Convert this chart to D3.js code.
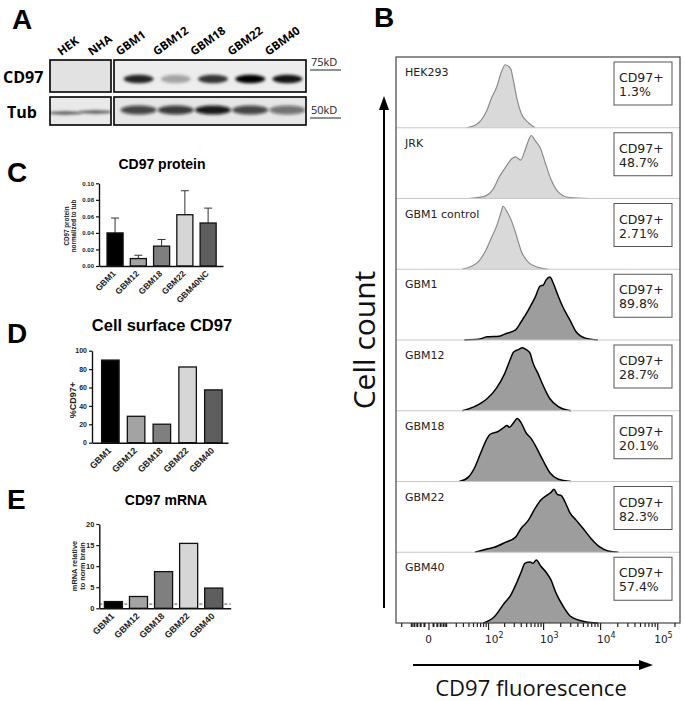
<!DOCTYPE html>
<html>
<head>
<meta charset="utf-8">
<script src="https://cdn.jsdelivr.net/npm/d3@7"></script>
<style>
body { margin: 0; background: #fff; }
svg { display: block; }
</style>
</head>
<body>
<div id="fig"></div>
<script>
// ---------- data ----------
// A: western blot lanes and band strengths (0..1)
var blotLeft = ["HEK", "NHA"];
var blotRight = ["GBM1", "GBM12", "GBM18", "GBM22", "GBM40"];
var cd97Band = [0, 0, 0.85, 0.3, 0.78, 1.0, 0.92];
var tubBand = [0.85, 0.85, 0.75, 0.8, 0.95, 0.75, 0.55];

// C: CD97 protein normalized to tub (mean, upper error)
var proteinLines = ["GBM1", "GBM12", "GBM18", "GBM22", "GBM40NC"];
var proteinMean = [0.040, 0.009, 0.024, 0.062, 0.052];
var proteinErr = [0.018, 0.004, 0.008, 0.029, 0.018];
var proteinTicks = [0, 0.02, 0.04, 0.06, 0.08, 0.10];

// D: cell surface CD97 (%CD97+)
var cellLines = ["GBM1", "GBM12", "GBM18", "GBM22", "GBM40"];
var surfacePct = [89.8, 28.7, 20.1, 82.3, 57.4];
var surfaceTicks = [0, 20, 40, 60, 80, 100];

// E: CD97 mRNA relative to normal brain
var mrnaRel = [1.6, 2.8, 8.7, 15.4, 4.8];
var mrnaTicks = [0, 5, 10, 15, 20];
var normBrain = 1;

var barFills = ["#000000", "#a3a3a3", "#7f7f7f", "#d6d6d6", "#5e5e5e"];

// B: flow histograms (log10 fluorescence, % of mode)
var flowSamples = ["HEK293", "JRK", "GBM1 control", "GBM1", "GBM12", "GBM18", "GBM22", "GBM40"];
var flowPositive = ["1.3%", "48.7%", "2.71%", "89.8%", "28.7%", "20.1%", "82.3%", "57.4%"];
var flowControl = [true, true, true, false, false, false, false, false];
var histLog = [
  [1.56, 1.77, 1.98, 2.07, 2.16, 2.25, 2.32, 2.42, 2.47, 2.54, 2.61, 2.74, 2.86],
  [1.60, 1.91, 2.09, 2.21, 2.33, 2.44, 2.51, 2.60, 2.68, 2.74, 2.79, 2.86, 2.95, 3.04, 3.14, 3.26, 3.44, 3.84],
  [1.46, 1.68, 1.82, 1.95, 2.07, 2.16, 2.25, 2.28, 2.35, 2.44, 2.53, 2.61, 2.74, 2.91, 3.09],
  [1.51, 1.81, 1.98, 2.21, 2.33, 2.51, 2.61, 2.74, 2.86, 2.95, 3.00, 3.05, 3.12, 3.18, 3.26, 3.35, 3.47, 3.58, 3.74, 3.96],
  [1.46, 1.74, 1.98, 2.16, 2.30, 2.42, 2.47, 2.56, 2.63, 2.70, 2.77, 2.82, 2.91, 3.00, 3.12, 3.26, 3.49],
  [1.39, 1.60, 1.74, 1.86, 1.98, 2.04, 2.18, 2.30, 2.35, 2.40, 2.47, 2.54, 2.61, 2.70, 2.79, 2.88, 3.00, 3.12, 3.26, 3.49],
  [1.74, 1.98, 2.12, 2.33, 2.51, 2.61, 2.74, 2.86, 2.96, 3.09, 3.14, 3.19, 3.25, 3.32, 3.39, 3.47, 3.58, 3.70, 3.84, 4.00, 4.14, 4.32],
  [1.91, 2.12, 2.30, 2.42, 2.53, 2.61, 2.68, 2.77, 2.82, 2.88, 2.96, 3.05, 3.14, 3.23, 3.35, 3.49, 3.74, 3.96]
];
var histPct = [
  [0, 5, 28, 48, 64, 88, 100, 94, 75, 44, 23, 8, 0],
  [0, 3, 14, 34, 50, 63, 66, 61, 77, 92, 100, 92, 80, 56, 30, 11, 2, 0],
  [0, 5, 13, 29, 51, 68, 92, 100, 92, 76, 52, 29, 11, 3, 0],
  [0, 1, 5, 6, 10, 16, 29, 48, 68, 86, 87, 95, 100, 90, 71, 52, 32, 13, 3, 0],
  [0, 7, 19, 36, 57, 83, 93, 97, 100, 97, 91, 76, 59, 40, 19, 7, 0],
  [0, 7, 23, 46, 68, 75, 79, 86, 89, 86, 93, 100, 93, 77, 68, 54, 33, 14, 4, 0],
  [0, 5, 8, 16, 24, 38, 51, 70, 83, 92, 95, 100, 92, 90, 79, 63, 51, 38, 22, 8, 2, 0],
  [0, 10, 31, 44, 64, 81, 95, 97, 95, 100, 90, 81, 68, 47, 27, 10, 2, 0]
];
var flowMajor = [0, 100, 1000, 10000, 100000];
var flowMajorExp = ["", "2", "3", "4", "5"];
var flowMinor = [-20, -10, -8, -6, -4, -2, 2, 4, 6, 8, 10, 20, 30, 40, 50, 60, 70, 80, 90,
  200, 300, 400, 500, 600, 700, 800, 900,
  2000, 3000, 4000, 5000, 6000, 7000, 8000, 9000,
  20000, 30000, 40000, 50000, 60000, 70000, 80000, 90000, 200000];

// ---------- svg ----------
var svg = d3.select("#fig").append("svg")
  .attr("width", 685)
  .attr("height", 701)
  .style("background", "#fff");

var defs = svg.append("defs");
defs.append("filter").attr("id", "blur")
  .attr("x", "-50%").attr("y", "-100%").attr("width", "200%").attr("height", "300%")
  .append("feGaussianBlur").attr("stdDeviation", 1.8);

var letterFont = "'Open Sans', sans-serif";
var panelFont = "'Liberation Sans', Arial, sans-serif";
var prismFont = "'Liberation Sans', Arial, sans-serif";
var flowFont = "'DejaVu Sans', sans-serif";

// panel letters
[["A", 12, 29], ["B", 374, 27], ["C", 7, 182], ["D", 7, 343], ["E", 7, 509]].forEach(function(p) {
  svg.append("text").attr("x", p[1]).attr("y", p[2])
    .attr("font-family", panelFont).attr("font-weight", 700).attr("font-size", 28)
    .text(p[0]);
});

// ---------- A: western blot ----------
var gA = svg.append("g");
var xLeft = d3.scaleBand().domain(blotLeft).range([50, 111]);
var xRight = d3.scaleBand().domain(blotRight).range([120, 306]);
var allLanes = blotLeft.concat(blotRight);
function laneX(l) {
  return blotLeft.indexOf(l) >= 0 ? xLeft(l) + xLeft.bandwidth() / 2 : xRight(l) + xRight.bandwidth() / 2;
}

var boxes = [
  {id: "cdL", x: 50, y: 60, w: 61, h: 32, bg: "#e2e2e2"},
  {id: "cdR", x: 114, y: 60, w: 192, h: 32, bg: "#ededed"},
  {id: "tuL", x: 50, y: 97, w: 61, h: 28, bg: "#e9e9e9"},
  {id: "tuR", x: 114, y: 97, w: 192, h: 28, bg: "#e6e6e6"}
];
boxes.forEach(function(b) {
  defs.append("clipPath").attr("id", "clip-" + b.id)
    .append("rect").attr("x", b.x).attr("y", b.y).attr("width", b.w).attr("height", b.h);
  gA.append("rect").attr("x", b.x).attr("y", b.y).attr("width", b.w).attr("height", b.h)
    .attr("fill", b.bg);
});

// CD97 bands
gA.append("g").attr("clip-path", "url(#clip-cdR)").attr("filter", "url(#blur)")
  .selectAll("ellipse").data(blotRight).enter().append("ellipse")
  .attr("cx", function(d) { return laneX(d); })
  .attr("cy", 79)
  .attr("rx", 15)
  .attr("ry", 4.2)
  .attr("fill", "#000")
  .attr("opacity", function(d) { return cd97Band[allLanes.indexOf(d)]; });

// Tub bands (right box)
gA.append("g").attr("clip-path", "url(#clip-tuR)").attr("filter", "url(#blur)")
  .selectAll("ellipse").data(blotRight).enter().append("ellipse")
  .attr("cx", function(d) { return laneX(d); })
  .attr("cy", 110)
  .attr("rx", 18)
  .attr("ry", 4.5)
  .attr("fill", "#111")
  .attr("opacity", function(d) { return tubBand[allLanes.indexOf(d)]; });

// Tub bands (left box, thin)
gA.append("g").attr("clip-path", "url(#clip-tuL)")
  .selectAll("ellipse").data(blotLeft).enter().append("ellipse")
  .attr("cx", function(d) { return laneX(d); })
  .attr("cy", function(d, i) { return 113 - i; })
  .attr("rx", 17)
  .attr("ry", 1.4)
  .attr("fill", "#222")
  .attr("filter", "url(#blur)")
  .attr("opacity", function(d) { return tubBand[allLanes.indexOf(d)]; });

boxes.forEach(function(b) {
  gA.append("rect").attr("x", b.x).attr("y", b.y).attr("width", b.w).attr("height", b.h)
    .attr("fill", "none").attr("stroke", "#000").attr("stroke-width", 1.6);
});

gA.selectAll("text.lane").data(allLanes).enter().append("text")
  .attr("class", "lane")
  .attr("transform", function(d) {
    var off = blotLeft.indexOf(d) >= 0 ? -4 : -19;
    return "translate(" + (laneX(d) + off) + ",56) rotate(-36)";
  })
  .attr("font-family", letterFont).attr("font-weight", 700).attr("font-size", 11.5)
  .text(function(d) { return d; });

gA.append("text").attr("x", 3).attr("y", 83)
  .attr("font-family", letterFont).attr("font-weight", 700).attr("font-size", 16).text("CD97");
gA.append("text").attr("x", 7).attr("y", 118)
  .attr("font-family", letterFont).attr("font-weight", 700).attr("font-size", 16).text("Tub");
[["75kD", 66, 70], ["50kD", 114, 118]].forEach(function(k) {
  gA.append("text").attr("x", 311).attr("y", k[1])
    .attr("font-family", letterFont).attr("font-size", 11).attr("fill", "#222").text(k[0]);
  gA.append("line").attr("x1", 310).attr("x2", 341).attr("y1", k[2]).attr("y2", k[2])
    .attr("stroke", "#222").attr("stroke-width", 1);
});

// ---------- C, D, E: bar charts ----------
function barPanel(cfg) {
  var g = svg.append("g");
  var x = d3.scaleBand().domain(cfg.cats).range(cfg.xr)
    .paddingInner(cfg.pi).paddingOuter(cfg.po).align(cfg.al);
  var y = d3.scaleLinear().domain(cfg.yd).range(cfg.yr);

  if (cfg.dash != null) {
    g.append("line").attr("x1", cfg.xr[0]).attr("x2", cfg.xr[1])
      .attr("y1", y(cfg.dash)).attr("y2", y(cfg.dash))
      .attr("stroke", "#555").attr("stroke-width", 1).attr("stroke-dasharray", "3,2");
  }

  if (cfg.err) {
    var eg = g.append("g").selectAll("g").data(cfg.vals).enter().append("g");
    eg.append("line")
      .attr("x1", function(d, i) { return x(cfg.cats[i]) + x.bandwidth() / 2; })
      .attr("x2", function(d, i) { return x(cfg.cats[i]) + x.bandwidth() / 2; })
      .attr("y1", function(d) { return y(d); })
      .attr("y2", function(d, i) { return y(d + cfg.err[i]); })
      .attr("stroke", "#333").attr("stroke-width", 1);
    eg.append("line")
      .attr("x1", function(d, i) { return x(cfg.cats[i]) + x.bandwidth() / 2 - 4; })
      .attr("x2", function(d, i) { return x(cfg.cats[i]) + x.bandwidth() / 2 + 4; })
      .attr("y1", function(d, i) { return y(d + cfg.err[i]); })
      .attr("y2", function(d, i) { return y(d + cfg.err[i]); })
      .attr("stroke", "#333").attr("stroke-width", 1);
  }

  g.append("g").selectAll("rect").data(cfg.vals).enter().append("rect")
    .attr("x", function(d, i) { return x(cfg.cats[i]); })
    .attr("width", x.bandwidth())
    .attr("y", function(d) { return y(d); })
    .attr("height", function(d) { return y(0) - y(d); })
    .attr("fill", function(d, i) { return barFills[i]; })
    .attr("stroke", "#111").attr("stroke-width", 1.3);

  var ya = g.append("g").attr("transform", "translate(" + cfg.xr[0] + ",0)")
    .call(d3.axisLeft(y).tickValues(cfg.yt).tickSize(3).tickSizeOuter(0).tickFormat(cfg.fmt));
  var xa = g.append("g").attr("transform", "translate(0," + cfg.yr[0] + ")")
    .call(d3.axisBottom(x).tickSize(0).tickSizeOuter(0).tickFormat(""));
  [ya, xa].forEach(function(a) {
    a.select(".domain").attr("stroke", "#111").attr("stroke-width", 1.4);
    a.selectAll(".tick line").attr("stroke", "#111").attr("stroke-width", 1.2);
  });
  ya.selectAll(".tick text")
    .attr("font-family", prismFont).attr("font-weight", 700).attr("font-size", cfg.tickFs)
    .attr("fill", "#222").attr("dx", 1);

  g.selectAll("text.cat").data(cfg.cats).enter().append("text")
    .attr("class", "cat")
    .attr("transform", function(d) {
      return "translate(" + (x(d) + x.bandwidth() / 2 - 3) + "," + (cfg.yr[0] + 4) + ") rotate(-45)";
    })
    .attr("text-anchor", "end")
    .attr("dy", "0.7em")
    .attr("font-family", prismFont).attr("font-weight", 700).attr("font-size", cfg.catFs)
    .attr("fill", "#222")
    .text(function(d) { return d; });

  g.append("text").attr("x", cfg.title[1]).attr("y", cfg.title[2])
    .attr("text-anchor", "middle")
    .attr("font-family", prismFont).attr("font-weight", 700).attr("font-size", cfg.title[3])
    .text(cfg.title[0]);

  var yl = g.append("text")
    .attr("transform", "translate(" + cfg.ylab.x + "," + cfg.ylab.y + ") rotate(-90)")
    .attr("text-anchor", "middle")
    .attr("font-family", prismFont).attr("font-weight", 700).attr("font-size", cfg.ylab.fs)
    .attr("fill", "#222");
  cfg.ylab.lines.forEach(function(t, i) {
    yl.append("tspan").attr("x", 0).attr("dy", i === 0 ? 0 : cfg.ylab.fs * 1.05).text(t);
  });
}

barPanel({
  cats: proteinLines, vals: proteinMean, err: proteinErr,
  xr: [99, 223], pi: 0.31, po: 0.32, al: 0.54,
  yd: [0, 0.1], yr: [266, 183.3], yt: proteinTicks, fmt: d3.format(".2f"),
  tickFs: 6, catFs: 8.5,
  title: ["CD97 protein", 162, 169, 14],
  ylab: {x: 69, y: 226, fs: 6.3, lines: ["CD97 protein", "normalized to tub"]}
});

barPanel({
  cats: cellLines, vals: surfacePct,
  xr: [92, 228], pi: 0.32, po: 0.3, al: 0.62,
  yd: [0, 100], yr: [442.7, 350.7], yt: surfaceTicks, fmt: d3.format("d"),
  tickFs: 7, catFs: 9,
  title: ["Cell surface CD97", 162, 331, 16.5],
  ylab: {x: 76, y: 400, fs: 9, lines: ["%CD97+"]}
});

barPanel({
  cats: cellLines, vals: mrnaRel, dash: normBrain,
  xr: [99.3, 230.7], pi: 0.28, po: 0.26, al: 0.39,
  yd: [0, 20], yr: [608.3, 524], yt: mrnaTicks, fmt: d3.format("d"),
  tickFs: 7.5, catFs: 9,
  title: ["CD97 mRNA", 166, 505, 14],
  ylab: {x: 77, y: 566, fs: 7.4, lines: ["mRNA relative", "to norm brain"]}
});

// ---------- B: flow cytometry histograms ----------
var gB = svg.append("g");
var frame = {x: 396, y: 57, w: 284, h: 566};
var rowH = frame.h / flowSamples.length;
var xFlow = d3.scaleSymlog().constant(10).domain([-27, 2.5e5]).range([frame.x, frame.x + frame.w]);

flowSamples.forEach(function(name, i) {
  var top = frame.y + i * rowH;
  var base = top + rowH;
  var yS = d3.scaleLinear().domain([0, 100]).range([base, base - 63]);
  var pts = histLog[i].map(function(v, j) { return [v, histPct[i][j]]; });
  var area = d3.area()
    .x(function(d) { return xFlow(Math.pow(10, d[0])); })
    .y0(base)
    .y1(function(d) { return yS(d[1]); })
    .curve(d3.curveMonotoneX);
  var line = d3.line()
    .x(function(d) { return xFlow(Math.pow(10, d[0])); })
    .y(function(d) { return yS(d[1]); })
    .curve(d3.curveMonotoneX);
  var ctrl = flowControl[i];
  gB.append("path").datum(pts).attr("d", area)
    .attr("fill", ctrl ? "#d9d9d9" : "#9d9d9d");
  gB.append("path").datum(pts).attr("d", line)
    .attr("fill", "none")
    .attr("stroke", ctrl ? "#8c8c8c" : "#000")
    .attr("stroke-width", ctrl ? 1.2 : 1.5)
    .attr("stroke-linejoin", "round");

  gB.append("text").attr("x", 405).attr("y", top + 19)
    .attr("font-family", flowFont).attr("font-size", 11).attr("fill", "#222")
    .text(name);

  var bx = 614, by = top + 5;
  gB.append("rect").attr("x", bx).attr("y", by).attr("width", 58).attr("height", 43)
    .attr("fill", "#fff").attr("stroke", "#555").attr("stroke-width", 1);
  gB.append("text").attr("x", bx + 5).attr("y", by + 20)
    .attr("font-family", flowFont).attr("font-size", 12.5).attr("fill", "#222").text("CD97+");
  gB.append("text").attr("x", bx + 5).attr("y", by + 34)
    .attr("font-family", flowFont).attr("font-size", 12.5).attr("fill", "#222").text(flowPositive[i]);

  if (i > 0) {
    gB.append("line").attr("x1", frame.x).attr("x2", frame.x + frame.w)
      .attr("y1", top).attr("y2", top).attr("stroke", "#c8c8c8").attr("stroke-width", 1);
  }
});

gB.append("rect").attr("x", frame.x).attr("y", frame.y).attr("width", frame.w).attr("height", frame.h)
  .attr("fill", "none").attr("stroke", "#444").attr("stroke-width", 1.2);

var axB = frame.y + frame.h;
var minorAx = gB.append("g").attr("transform", "translate(0," + axB + ")")
  .call(d3.axisBottom(xFlow).tickValues(flowMinor).tickSize(4).tickSizeOuter(0).tickFormat(""));
var majorAx = gB.append("g").attr("transform", "translate(0," + axB + ")")
  .call(d3.axisBottom(xFlow).tickValues(flowMajor).tickSize(7).tickSizeOuter(0).tickFormat(""));
[minorAx, majorAx].forEach(function(a) {
  a.select(".domain").remove();
  a.selectAll(".tick line").attr("stroke", "#222").attr("stroke-width", 1.2);
});
minorAx.selectAll(".tick line").filter(function(d) { return Math.abs(d) <= 10; })
  .attr("stroke-width", 2);

flowMajor.forEach(function(v, i) {
  var t = gB.append("text").attr("y", axB + 20)
    .attr("font-family", flowFont).attr("font-size", 10.5).attr("fill", "#222");
  if (v === 0) {
    t.attr("x", xFlow(v)).attr("text-anchor", "middle").text("0");
  } else {
    t.attr("x", xFlow(v) - 3).text("10");
    t.append("tspan").attr("dy", -5).attr("font-size", 8).text(flowMajorExp[i]);
  }
});

// axis arrows and titles
gB.append("line").attr("x1", 384).attr("x2", 384).attr("y1", 608).attr("y2", 106)
  .attr("stroke", "#000").attr("stroke-width", 2);
gB.append("path").attr("d", "M384,96 L379,110 L389,110 Z").attr("fill", "#000");
gB.append("text")
  .attr("transform", "translate(375,340) rotate(-90)")
  .attr("text-anchor", "middle")
  .attr("font-family", letterFont).attr("font-size", 30).attr("fill", "#111")
  .text("Cell count");

gB.append("line").attr("x1", 413).attr("x2", 642).attr("y1", 665).attr("y2", 665)
  .attr("stroke", "#000").attr("stroke-width", 2);
gB.append("path").attr("d", "M653,665 L639,660 L639,670 Z").attr("fill", "#000");
gB.append("text").attr("x", 531).attr("y", 696)
  .attr("text-anchor", "middle")
  .attr("font-family", letterFont).attr("font-size", 22).attr("fill", "#111")
  .text("CD97 fluorescence");
</script>
</body>
</html>
